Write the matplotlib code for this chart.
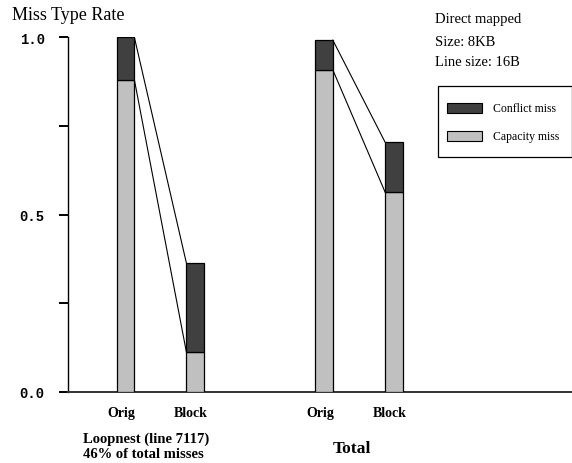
import matplotlib
matplotlib.use("Agg")
import matplotlib.pyplot as plt
from matplotlib.patches import Rectangle
from matplotlib.transforms import ScaledTranslation

# ---- data ----
bar_labels = ["Orig", "Block", "Orig", "Block"]
capacity = [0.880, 0.113, 0.908, 0.563]
conflict_total = [1.0, 0.364, 0.992, 0.704]
conflict = [t - c for t, c in zip(conflict_total, capacity)]
group_labels = ["Loopnest (line 7117)\n46% of total misses", "Total"]
yticks = [0.0, 0.25, 0.5, 0.75, 1.0]
ytick_labels = ["0.0", "", "0.5", "", "1.0"]
info_lines = ["Direct mapped", "Size: 8KB", "Line size: 16B"]
legend_labels = ["Conflict miss", "Capacity miss"]

# ---- layout ----
positions = [0.826, 1.821, 3.661, 4.661]
bar_w = 0.253
dark = "#404040"
light = "#c0c0c0"
serif = ["Liberation Serif", "DejaVu Serif"]
mono = ["Liberation Mono", "DejaVu Sans Mono"]

W, H = 572, 464
fig = plt.figure(figsize=(W / 100, H / 100), dpi=100)
ax = fig.add_axes([67.7 / W, 1 - 392.7 / H, (W - 67.7) / W, (392.7 - 38.3) / H])
ax.set_xlim(0, (W - 67.7) / 70)
ax.set_ylim(0, 1)

ax.bar(positions, capacity, width=bar_w, color=light, edgecolor="black", linewidth=0.9, zorder=3)
ax.bar(positions, conflict, bottom=capacity, width=bar_w, color=dark, edgecolor="black",
       linewidth=0.9, zorder=3)

# connecting lines between Orig and Block in each group
for i in (0, 2):
    x0 = positions[i] + bar_w / 2
    x1 = positions[i + 1] - bar_w / 2
    ax.plot([x0, x1], [conflict_total[i], conflict_total[i + 1]], color="black", lw=0.8, zorder=2)
    ax.plot([x0, x1], [capacity[i], capacity[i + 1]], color="black", lw=0.8, zorder=2)

for s in ("top", "right"):
    ax.spines[s].set_visible(False)
ax.spines["left"].set_linewidth(1.0)
ax.spines["bottom"].set_linewidth(1.4)
ax.spines["bottom"].set_color("#333333")

ax.set_yticks(yticks)
ax.set_yticklabels(ytick_labels, fontfamily=mono, fontweight="bold", fontsize=10)
ax.tick_params(axis="y", direction="out", length=6.5, width=1.4, pad=10)

ax.set_xticks(positions)
ax.set_xticklabels(bar_labels, fontfamily=serif, fontweight="bold", fontsize=10)
ax.tick_params(axis="x", length=0, pad=10)
for lab in ax.get_xticklabels():
    lab.set_transform(lab.get_transform() + ScaledTranslation(-4 / 100, 0, fig.dpi_scale_trans))

def fx(px):
    return px / W

def fy(py):
    return 1 - py / H

fig.text(fx(12), fy(20), "Miss Type Rate", fontfamily=serif, fontsize=13, va="baseline")

for txt, base in zip(info_lines, [23, 46, 66]):
    fig.text(fx(435), fy(base), txt, fontfamily=serif, fontsize=10.5, va="baseline")

fig.text(fx(83), fy(443), group_labels[0].split("\n")[0], fontfamily=serif, fontweight="bold",
         fontsize=10.5, va="baseline")
fig.text(fx(83), fy(458), group_labels[0].split("\n")[1], fontfamily=serif, fontweight="bold",
         fontsize=10.5, va="baseline")
fig.text(fx(333), fy(453), group_labels[1], fontfamily=serif, fontweight="bold",
         fontsize=12.6, va="baseline")

# legend box
fig.patches.append(Rectangle((fx(438), fy(158)), fx(571.5) - fx(438), fy(87) - fy(158),
                             transform=fig.transFigure, facecolor="white", edgecolor="black",
                             linewidth=0.9))
for lab, col, (top, bot) in zip(legend_labels, [dark, light], [(104, 114), (132, 142)]):
    fig.patches.append(Rectangle((fx(447), fy(bot)), fx(482) - fx(447), fy(top) - fy(bot),
                                 transform=fig.transFigure, facecolor=col, edgecolor="black",
                                 linewidth=0.8))
    fig.text(fx(493), fy((top + bot) / 2), lab, fontfamily=serif, fontsize=8.5, va="center")

fig.savefig("out.png", dpi=100)
